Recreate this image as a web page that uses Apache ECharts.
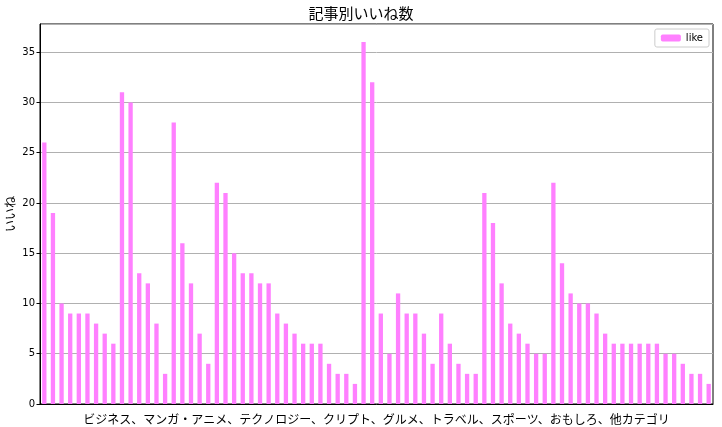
<!DOCTYPE html>
<html><head><meta charset="utf-8">
<script src="https://cdn.jsdelivr.net/npm/echarts@6/dist/echarts.min.js"></script>
<style>html,body{margin:0;padding:0;background:#fff}#c{width:722px;height:427px}</style>
</head><body><div id="c"></div>
<script>
const titleText = '記事別いいね数';
const xName = 'ビジネス、マンガ・アニメ、テクノロジー、クリプト、グルメ、トラベル、スポーツ、おもしろ、他カテゴリ';
const yName = 'いいね';
const seriesName = 'like';
const likes = [26,19,10,9,9,9,8,7,6,31,30,13,12,8,3,28,16,12,7,4,22,21,15,13,13,12,12,9,8,7,6,6,6,4,3,3,2,36,32,9,5,11,9,9,7,4,9,6,4,3,3,21,18,12,8,7,6,5,5,22,14,11,10,10,9,7,6,6,6,6,6,6,5,5,4,3,3,2];
const categories = likes.map((_, i) => String(i));
const yTicks = [0,5,10,15,20,25,30,35];

const font = '"Noto Sans CJK JP", "DejaVu Sans", sans-serif';
const chart = echarts.init(document.getElementById('c'), null, {renderer: 'canvas'});
chart.setOption({
  animation: false,
  textStyle: {fontFamily: font},
  title: {text: titleText, left: 'center', top: 1, textStyle: {fontSize: 15, fontWeight: 'normal', color: '#000', fontFamily: font}},
  grid: {left: 40, right: 9, top: 24, bottom: 23, show: true, borderColor: '#000', borderWidth: 1,
    backgroundColor: 'transparent', containLabel: false, outerBoundsMode: 'none'},
  legend: {
    data: [seriesName], right: 13, top: 29, orient: 'vertical',
    itemWidth: 20, itemHeight: 7, itemGap: 4,
    padding: [4, 6, 4, 6], borderColor: '#ccc', borderWidth: 1, borderRadius: 2,
    textStyle: {fontSize: 10, color: '#000', fontFamily: 'DejaVu Sans'}
  },
  xAxis: {
    type: 'category', data: categories,
    name: xName, nameLocation: 'middle', nameGap: 9,
    nameTextStyle: {fontSize: 12, color: '#000', fontFamily: font},
    axisLabel: {show: false}, axisTick: {show: false},
    axisLine: {lineStyle: {color: '#000', width: 1}},
    splitLine: {show: false}
  },
  yAxis: {
    type: 'value', min: 0, max: 37.8, interval: 5,
    name: yName, nameLocation: 'middle', nameGap: 24, nameRotate: 90, nameMoveOverlap: false,
    nameTextStyle: {fontSize: 12, color: '#000', fontFamily: font},
    axisLine: {show: true, lineStyle: {color: '#000'}},
    axisTick: {show: true, length: 3.5, lineStyle: {color: '#000'}},
    axisLabel: {fontSize: 10, color: '#000', margin: 5, fontFamily: 'DejaVu Sans', showMaxLabel: false,
      formatter: v => yTicks.includes(v) ? String(v) : ''},
    splitLine: {show: true, lineStyle: {color: '#b0b0b0', width: 1}}
  },
  series: [{
    name: seriesName, type: 'bar', data: likes, barWidth: '50%',
    itemStyle: {color: '#ff80ff'}
  }]
});
</script></body></html>
